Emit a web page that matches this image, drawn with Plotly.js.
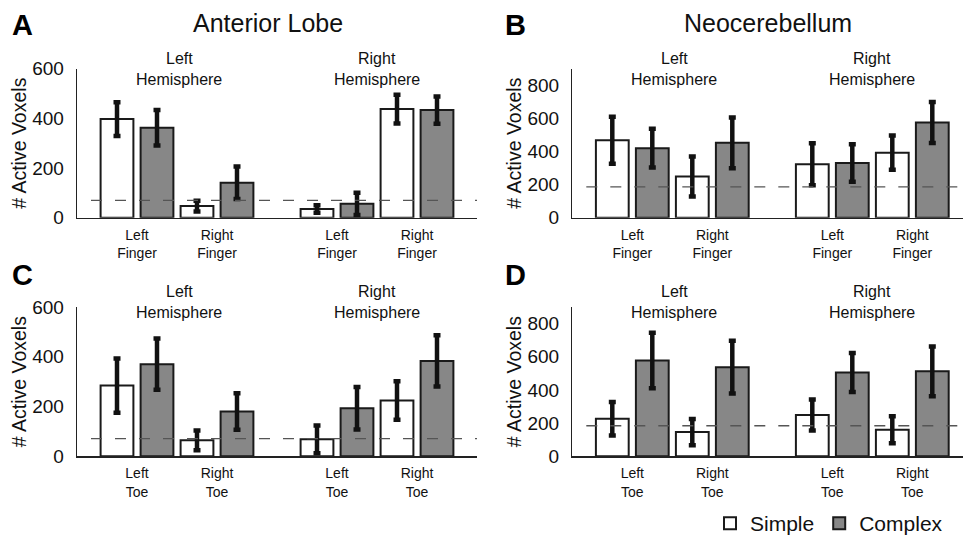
<!DOCTYPE html>
<html><head><meta charset="utf-8">
<script src="https://cdn.plot.ly/plotly-3.0.1.min.js"></script>
<style>html,body{margin:0;padding:0;background:#fff}#chart{width:963px;height:544px}</style>
</head><body><div id="chart"></div>
<script>
// ---------- data ----------
const fingerLabels = ["Left<br>Finger", "Right<br>Finger", "Left<br>Finger", "Right<br>Finger"];
const toeLabels = ["Left<br>Toe", "Right<br>Toe", "Left<br>Toe", "Right<br>Toe"];
const seriesNames = ["Simple", "Complex"];

const anteriorFingerSimple = [397, 47, 35, 437];
const anteriorFingerSimpleErr = [68, 22, 15, 58];
const anteriorFingerComplex = [362, 141, 56, 433];
const anteriorFingerComplexErr = [71, 65, 45, 55];
const anteriorFingerThreshold = 70;

const neoFingerSimple = [468, 249, 323, 393];
const neoFingerSimpleErr = [142, 121, 127, 103];
const neoFingerComplex = [420, 452, 331, 575];
const neoFingerComplexErr = [117, 153, 113, 124];
const neoFingerThreshold = 186;

const anteriorToeSimple = [284, 64, 68, 224];
const anteriorToeSimpleErr = [109, 40, 56, 77];
const anteriorToeComplex = [370, 180, 193, 383];
const anteriorToeComplexErr = [103, 73, 85, 103];
const anteriorToeThreshold = 71;

const neoToeSimple = [226, 146, 249, 160];
const neoToeSimpleErr = [101, 79, 93, 81];
const neoToeComplex = [577, 537, 505, 512];
const neoToeComplexErr = [167, 159, 117, 150];
const neoToeThreshold = 184;

const panelLetters = ["A", "B", "C", "D"];
const columnTitles = ["Anterior Lobe", "Neocerebellum"];
const hemisphereLines = [["Left", "Hemisphere"], ["Right", "Hemisphere"]];
const yTitle = "# Active Voxels";

// ---------- layout helpers ----------
const W = 963, H = 544;
const FONT = "Liberation Sans, Arial, Helvetica, sans-serif";
const slotX = [1.5, 3.5, 6.5, 8.5];
const px = v => v / W;
const py = v => 1 - v / H;

const panels = [
  {ax: "", simple: anteriorFingerSimple, sErr: anteriorFingerSimpleErr, complex: anteriorFingerComplex, cErr: anteriorFingerComplexErr, thr: anteriorFingerThreshold, labels: fingerLabels, yMax: 600, yTicks: [0, 200, 400, 600]},
  {ax: "2", simple: neoFingerSimple, sErr: neoFingerSimpleErr, complex: neoFingerComplex, cErr: neoFingerComplexErr, thr: neoFingerThreshold, labels: fingerLabels, yMax: 900, yTicks: [0, 200, 400, 600, 800]},
  {ax: "3", simple: anteriorToeSimple, sErr: anteriorToeSimpleErr, complex: anteriorToeComplex, cErr: anteriorToeComplexErr, thr: anteriorToeThreshold, labels: toeLabels, yMax: 600, yTicks: [0, 200, 400, 600]},
  {ax: "4", simple: neoToeSimple, sErr: neoToeSimpleErr, complex: neoToeComplex, cErr: neoToeComplexErr, thr: neoToeThreshold, labels: toeLabels, yMax: 900, yTicks: [0, 200, 400, 600, 800]}
];

const xDomains = [[px(77), px(477)], [px(572.3), 1]];
const xRanges = [[0, 10], [0, (W - 572.3) / 40]];
const yDomains = [[py(222.3), py(70)], [py(465.7), py(313.3)]];

const traces = [];
const layout = {
  width: W, height: H,
  margin: {l: 0, r: 0, t: 0, b: 0, pad: 0},
  paper_bgcolor: "#fff", plot_bgcolor: "rgba(0,0,0,0)",
  font: {family: FONT, color: "#111"},
  barmode: "group", bargap: 0, bargroupgap: 0.18,
  showlegend: true,
  legend: {orientation: "h", x: px(710), xanchor: "left", y: py(534.5), yanchor: "middle",
           font: {size: 21, family: FONT, color: "#111"}, bgcolor: "rgba(0,0,0,0)",
           itemwidth: 30, tracegroupgap: 0, traceorder: "normal"},
  shapes: [], annotations: []
};

const fills = ["#ffffff", "#878787"];

panels.forEach((p, i) => {
  const col = i % 2, row = Math.floor(i / 2);
  const xa = "x" + p.ax, ya = "y" + p.ax;
  [[p.simple, p.sErr], [p.complex, p.cErr]].forEach((s, k) => {
    traces.push({
      type: "bar", name: seriesNames[k], x: slotX, y: s[0],
      xaxis: xa, yaxis: ya, showlegend: i === 0, legendgroup: seriesNames[k],
      marker: {color: fills[k], line: {color: "#1a1a1a", width: 2}},
      error_y: {type: "data", array: s[1], visible: true, color: "#111", thickness: 4.5, width: 3.5},
      hoverinfo: "y"
    });
  });
  layout["xaxis" + p.ax] = {
    domain: xDomains[col], range: xRanges[col], anchor: ya,
    showline: true, linecolor: "#222", linewidth: 1.3, showgrid: false, zeroline: false,
    tickmode: "array", tickvals: slotX, ticktext: p.labels, ticks: "", ticklabelstandoff: 4,
    tickfont: {size: 14, family: FONT, color: "#111"}, fixedrange: true
  };
  layout["yaxis" + p.ax] = {
    domain: yDomains[row], range: [0, p.yMax], anchor: xa,
    showline: true, linecolor: "#222", linewidth: 1.3, showgrid: false, zeroline: false,
    tickmode: "array", tickvals: p.yTicks, ticks: "", ticklabelstandoff: 8,
    tickfont: {size: 19, family: FONT, color: "#111"},
    title: {text: yTitle, font: {size: 19.5, family: FONT, color: "#111"}, standoff: 0},
    fixedrange: true
  };
  layout.shapes.push({
    type: "line", xref: xa, yref: ya, x0: 0.35, x1: 10, y0: p.thr, y1: p.thr,
    line: {color: "#555", width: 1.3, dash: "11px,13px"}, layer: "above"
  });
  // hemisphere labels
  const hx = [2.55, 7.5];
  const lineY = row === 0 ? [59.3, 81] : [297.3, 319.3];
  hemisphereLines.forEach((lines, h) => {
    lines.forEach((t, li) => {
      layout.annotations.push({
        text: t, xref: xa, yref: "paper", x: hx[h], y: py(lineY[li]),
        xanchor: "center", yanchor: "middle", showarrow: false,
        font: {size: 16, family: FONT, color: "#111"}
      });
    });
  });
  // panel letters
  layout.annotations.push({
    text: "<b>" + panelLetters[i] + "</b>", xref: "paper", yref: "paper",
    x: px(col === 0 ? 10 : 503), y: py(row === 0 ? 26 : 281), xanchor: "left", yanchor: "middle",
    showarrow: false, font: {size: 29, family: FONT, color: "#000"}
  });
});

columnTitles.forEach((t, c) => {
  layout.annotations.push({
    text: t, xref: "paper", yref: "paper", x: px(c === 0 ? 268 : 767.7), y: py(23),
    xanchor: "center", yanchor: "middle", showarrow: false,
    font: {size: 25, family: FONT, color: "#111"}
  });
});

Plotly.newPlot("chart", traces, layout, {displayModeBar: false, staticPlot: true});
</script>
</body></html>
